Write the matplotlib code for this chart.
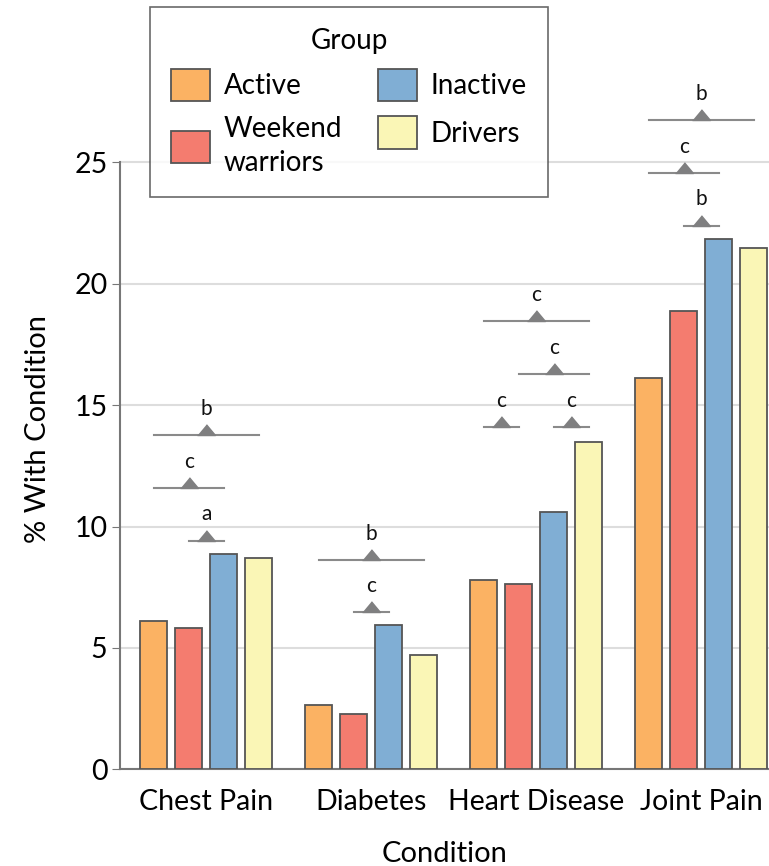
import numpy as np
import matplotlib
matplotlib.use("Agg")
import matplotlib.pyplot as plt

plt.rcParams['font.family'] = ['Lato', 'DejaVu Sans']

conditions = ['Chest Pain', 'Diabetes', 'Heart Disease', 'Joint Pain']
groups = ['Active', 'Weekend\nwarriors', 'Inactive', 'Drivers']
active = [6.11, 2.66, 7.80, 16.13]
weekend = [5.84, 2.29, 7.63, 18.90]
inactive = [8.87, 5.93, 10.61, 21.84]
drivers = [8.69, 4.70, 13.50, 21.48]
colors = ['#FBB263', '#F47C6F', '#80AED4', '#FAF6B6']

# pairwise comparisons: (condition, group a, group b, bracket height, letter)
brackets = [
    (0, 0, 3, 13.77, 'b'), (0, 0, 2, 11.58, 'c'), (0, 1, 2, 9.42, 'a'),
    (1, 0, 3, 8.62, 'b'), (1, 1, 2, 6.47, 'c'),
    (2, 0, 3, 18.47, 'c'), (2, 1, 3, 16.27, 'c'),
    (2, 0, 1, 14.09, 'c'), (2, 2, 3, 14.09, 'c'),
    (3, 0, 3, 26.75, 'b'), (3, 0, 2, 24.57, 'c'), (3, 1, 2, 22.40, 'b'),
]

series = [active, weekend, inactive, drivers]
x = np.arange(len(conditions))
width = 0.165
step = 0.212
offsets = (np.arange(4) - 1.5) * step

fig = plt.figure(figsize=(7.69, 8.66), dpi=100)
ax = fig.add_axes([0.156, 0.1117, 0.844, 0.7848])

bars = []
for i, vals in enumerate(series):
    b = ax.bar(x + offsets[i], vals, width, color=colors[i],
               edgecolor='#555555', linewidth=1.3, zorder=3, label=groups[i])
    bars.append(b)

tri = [(-1, 0), (1, 0), (0, 1.2)]
for c, g1, g2, h, letter in brackets:
    x1 = x[c] + offsets[g1]
    x2 = x[c] + offsets[g2]
    ax.plot([x1, x2], [h, h], color='#8a8a8a', lw=1.5, zorder=4, clip_on=False)
    xm = (x1 + x2) / 2
    ax.plot(xm, h, marker=tri, markersize=15.5, color='#7f7f80',
            linestyle='none', zorder=5, clip_on=False)
    ax.annotate(letter, (xm, h), xytext=(0, 14.5), textcoords='offset points',
                ha='center', va='baseline', fontsize=15, color='#111111')

ax.set_xlim(-0.5224, 3.411)
ax.set_ylim(0, 28)
ax.set_yticks([0, 5, 10, 15, 20, 25])
ax.set_xticks(x)
ax.set_xticklabels(conditions, fontsize=20.5)
ax.tick_params(axis='y', labelsize=20.5, length=6, color='#777777', pad=3)
ax.tick_params(axis='x', length=0, pad=14)
ax.yaxis.grid(True, color='#dddddd', lw=1.5, zorder=0)
ax.set_axisbelow(True)

for s in ['top', 'right']:
    ax.spines[s].set_visible(False)
ax.spines['left'].set_bounds(0, 25)
ax.spines['left'].set_color('#777777')
ax.spines['left'].set_linewidth(1.5)
ax.spines['bottom'].set_color('#777777')
ax.spines['bottom'].set_linewidth(1.5)

ax.set_xlabel('Condition', fontsize=21, labelpad=19)
ax.set_ylabel('% With Condition', fontsize=21, labelpad=17)

leg = fig.legend(handles=bars, labels=groups, ncol=2, title='Group',
                 loc='upper left', bbox_to_anchor=(0.195, 0.9919),
                 borderaxespad=0,
                 fontsize=20, title_fontsize=20, frameon=True, fancybox=False,
                 handlelength=1.4, handleheight=1.4, handletextpad=0.5,
                 columnspacing=1.3, borderpad=0.75, labelspacing=0.55)
for t in leg.get_texts():
    t.set_linespacing(1.35)
leg.get_frame().set_edgecolor('#444444')
leg.get_frame().set_linewidth(1.2)

fig.savefig('out.png', dpi=100)
